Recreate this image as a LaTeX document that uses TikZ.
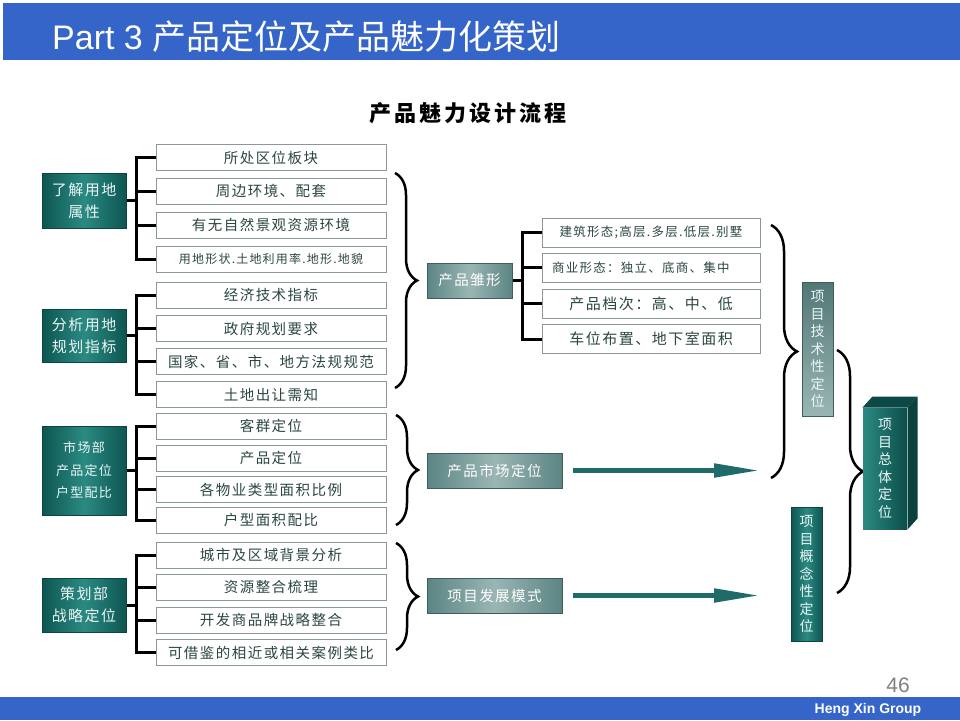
\documentclass[tikz,border=0pt]{standalone}
\usepackage{fontspec}
\setmainfont{Liberation Sans}
\newfontfamily\cjk{Noto Sans CJK SC}
\newfontfamily\cjksp[LetterSpace=10]{Noto Sans CJK SC}
\newfontfamily\cjkwide[LetterSpace=14]{Noto Sans CJK SC}
\usetikzlibrary{arrows.meta,decorations.pathreplacing,calc}
\definecolor{hdrblue}{HTML}{3565C9}
\definecolor{txt}{HTML}{2B4644}
\definecolor{itemborder}{HTML}{8A9897}
\definecolor{tealA}{HTML}{0E5652}
\definecolor{tealB}{HTML}{2A8A82}
\definecolor{grayA}{HTML}{5B8583}
\definecolor{grayB}{HTML}{9AB6B4}
\definecolor{arrowteal}{HTML}{1E6B69}
\tikzset{
  item/.style={draw=itemborder, line width=1, fill=white, minimum width=230, minimum height=26,
    inner sep=0, text=txt, font=\cjksp\fontsize{14.5}{16}\selectfont},
  ritem/.style={item, minimum width=218, minimum height=29},
  lbox/.style={draw=tealA!80!black, line width=1, left color=tealA, right color=tealA, middle color=tealB,
    minimum width=84, inner sep=0, align=center, text=white!92!teal,
    font=\cjksp\fontsize{15}{22}\selectfont},
  pbox/.style={draw=grayA!70!black, line width=1, left color=grayA, right color=grayA, middle color=grayB,
    minimum height=35, inner sep=0, text=white, font=\cjksp\fontsize{14.5}{16}\selectfont},
  vbox/.style={line width=1, minimum width=31, minimum height=134, inner sep=0, align=center,
    text=white!92!teal, font=\cjk\fontsize{14}{17.5}\selectfont},
  conn/.style={draw=black, line width=3, line join=miter},
  curly/.style={draw=black, line width=2.5, decorate, decoration={brace, amplitude=#1}},
  bigarrow/.style={draw=arrowteal, line width=5, -{Triangle[length=46pt, width=13pt]}}
}
\begin{document}
\begin{tikzpicture}[x=1pt,y=-1pt]
\useasboundingbox (0,0) rectangle (960,720);
\fill[white] (0,0) rectangle (960,720);
% header
\fill[hdrblue] (3,3) rectangle (960,60);
\node[anchor=base west, inner sep=0, text=white, font=\fontsize{34}{40}\selectfont] (title) at (52,49)
  {Part 3 {\cjk 产品定位及产品魅力化策划}};
\node[font=\cjkwide\bfseries\fontsize{22}{26}\selectfont, text=black] (sub) at (468,113) {产品魅力设计流程};

% left boxes
\node[lbox, minimum height=55] (L1) at (84,200.5) {了解用地\\属性};
\node[lbox, minimum height=53] (L2) at (84,335.5) {分析用地\\规划指标};
\node[lbox, minimum height=89, font=\cjksp\fontsize{13}{22.5}\selectfont] (L3) at (84,470.5) {市场部\\产品定位\\户型配比};
\node[lbox, minimum height=54] (L4) at (84,605) {策划部\\战略定位};

% list items
\node[item] (M1) at (271,157.5) {所处区位板块};
\node[item] (M2) at (271,191) {周边环境、配套};
\node[item] (M3) at (271,225) {有无自然景观资源环境};
\node[item, font=\cjksp\fontsize{12}{14}\selectfont] (M4) at (271,259) {用地形状.土地利用率.地形.地貌};
\node[item] (M5) at (271,295) {经济技术指标};
\node[item] (M6) at (271,328.5) {政府规划要求};
\node[item] (M7) at (271,361.5) {国家、省、市、地方法规规范};
\node[item] (M8) at (271,394.5) {土地出让需知};
\node[item] (M9) at (271,426) {客群定位};
\node[item] (M10) at (271,458) {产品定位};
\node[item] (M11) at (271,489.5) {各物业类型面积比例};
\node[item] (M12) at (271,520) {户型面积配比};
\node[item] (M13) at (271,555) {城市及区域背景分析};
\node[item] (M14) at (271,587) {资源整合梳理};
\node[item] (M15) at (271,620) {开发商品牌战略整合};
\node[item] (M16) at (271,652.5) {可借鉴的相近或相关案例类比};

% bracket connectors left
\coordinate (bx1) at (136,0);
\draw[conn] (M1.west) -- (M1.west -| bx1) -- (M4.west -| bx1) -- (M4.west);
\draw[conn] (M2.west) -- (M2.west -| bx1);
\draw[conn] (M3.west) -- (M3.west -| bx1);
\draw[conn] (L1.east) -- (L1.east -| bx1);
\draw[conn] (M5.west) -- (M5.west -| bx1) -- (M8.west -| bx1) -- (M8.west);
\draw[conn] (M6.west) -- (M6.west -| bx1);
\draw[conn] (M7.west) -- (M7.west -| bx1);
\draw[conn] (L2.east) -- (L2.east -| bx1);
\draw[conn] (M9.west) -- (M9.west -| bx1) -- (M12.west -| bx1) -- (M12.west);
\draw[conn] (M10.west) -- (M10.west -| bx1);
\draw[conn] (M11.west) -- (M11.west -| bx1);
\draw[conn] (L3.east) -- (L3.east -| bx1);
\draw[conn] (M13.west) -- (M13.west -| bx1) -- (M16.west -| bx1) -- (M16.west);
\draw[conn] (M14.west) -- (M14.west -| bx1);
\draw[conn] (M15.west) -- (M15.west -| bx1);
\draw[conn] (L4.east) -- (L4.east -| bx1);

% middle braces
\coordinate (bA1) at (395,173); \coordinate (bA2) at (395,388);
\coordinate (bB1) at (396,415); \coordinate (bB2) at (396,525);
\coordinate (bC1) at (396,543); \coordinate (bC2) at (396,650);
\draw[curly=22pt] (bA1) -- (bA2);
\draw[curly=22pt] (bB1) -- (bB2);
\draw[curly=22pt] (bC1) -- (bC2);

% middle nodes
\node[pbox, minimum width=85] (P1) at (469.5,280.5) {产品雏形};
\node[pbox, minimum width=135] (P2) at (494.5,470.5) {产品市场定位};
\node[pbox, minimum width=135] (P3) at (494.5,595.5) {项目发展模式};

% right items
\node[ritem, font=\cjksp\fontsize{12.5}{14}\selectfont] (R1) at (651,232.5) {建筑形态;高层.多层.低层.别墅};
\node[ritem, font=\cjksp\fontsize{12.5}{14}\selectfont, text width=198, align=left] (R2) at (651,267.5) {商业形态：独立、底商、集中};
\node[ritem, font=\cjksp\fontsize{15}{16}\selectfont] (R3) at (651,303.5) {产品档次：高、中、低};
\node[ritem, font=\cjksp\fontsize{15}{16}\selectfont] (R4) at (651,339) {车位布置、地下室面积};

\coordinate (bx2) at (522,0);
\draw[conn] (R1.west) -- (R1.west -| bx2) -- (R4.west -| bx2) -- (R4.west);
\draw[conn] (R2.west) -- (R2.west -| bx2);
\draw[conn] (R3.west) -- (R3.west -| bx2);
\draw[conn] (P1.east) -- (P1.east -| bx2);

% arrows
\coordinate (a1e) at (760,470.5);
\coordinate (a2e) at (760,595.5);
\draw[bigarrow, shorten <=10pt] (P2.east) -- (a1e);
\draw[bigarrow, shorten <=10pt] (P3.east) -- (a2e);

% right braces
\coordinate (bD1) at (771,225); \coordinate (bD2) at (771,478);
\coordinate (bE1) at (837,350); \coordinate (bE2) at (837,593);
\draw[curly=26pt] (bD1) -- (bD2);
\draw[curly=26pt] (bE1) -- (bE2);

% vertical nodes
\node[vbox, draw=grayA!70!black, top color=grayA!90!black, bottom color=grayB] (T1) at (817.5,349)
  {项\\目\\技\\术\\性\\定\\位};
\node[vbox, draw=tealA!80!black, left color=tealA, right color=tealA, middle color=tealB] (T2) at (806.5,574)
  {项\\目\\概\\念\\性\\定\\位};
% 3D box
\node[vbox, minimum width=44, minimum height=121, draw=none, left color=tealB, right color=tealA!90!black] (T3) at (885,468.5)
  {项\\目\\总\\体\\定\\位};
\fill[tealA!85!black] (T3.north west) -- +(10,-11) -- ([shift={(10,-11)}]T3.north east) -- (T3.north east) -- cycle;
\fill[tealA!75!black] (T3.north east) -- +(10,-11) -- ([shift={(10,-11)}]T3.south east) -- (T3.south east) -- cycle;

% footer
\node[font=\fontsize{21}{24}\selectfont, text=black!50] (pg) at (898,685) {46};
\fill[hdrblue] (0,697) rectangle (960,720);
\node[font=\bfseries\fontsize{14}{16}\selectfont, text=white] (grp) at (868,710) {Heng Xin Group};
\end{tikzpicture}
\end{document}
